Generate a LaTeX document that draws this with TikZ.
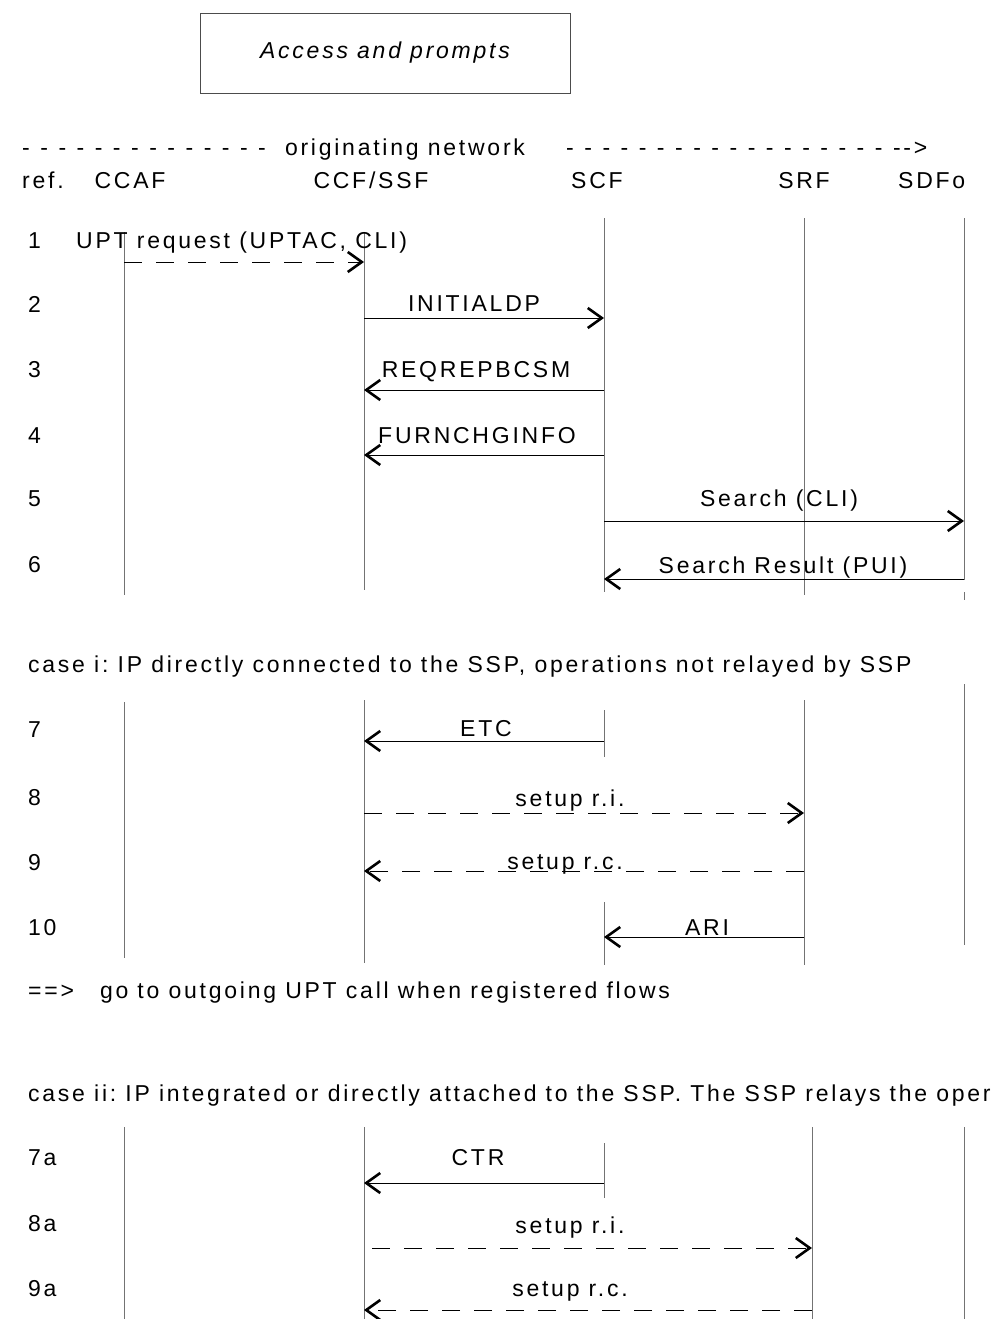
\documentclass[tikz,border=0pt]{standalone}
\usepackage{fontspec}
\setmainfont{Liberation Sans}[LetterSpace=12]
\usetikzlibrary{arrows.meta}
\frenchspacing
\newcommand\widespaces{\spaceskip=10.5pt\relax}
\tikzset{
  life/.style={draw=black!55, line width=0.9pt},
  msg/.style={-{Straight Barb[length=14pt,width=20pt,line width=2.6pt]}, line width=0.9pt},
  dmsg/.style={msg, dash pattern=on 18pt off 14pt},
  txt/.style={font=\fontsize{23}{27}\selectfont, inner sep=0pt},
  dashtxt/.style={txt, font=\fontsize{23}{27}\selectfont\widespaces},
  titlebox/.style={draw=black!70, line width=0.8pt, minimum width=370pt, minimum height=80pt,
    font=\fontsize{23}{27}\selectfont\itshape},
}
\begin{document}
\begin{tikzpicture}[x=1pt,y=-1pt]
  \useasboundingbox (0,0) rectangle (994,1319);
  % Title
  \node[titlebox] (title) at (385,53) {Access and prompts};
  % Header
  \node[dashtxt,anchor=base west] (dashl) at (22,155) {- - - - - - - - - - - - - -};
  \node[txt,anchor=base] (orignet) at (405,155) {originating network};
  \node[dashtxt,anchor=base west] (dashr) at (566,155) {- - - - - - - - - - - - - - - - - - -{}-{}>};
  \node[txt,anchor=base west] (ref) at (22,188) {ref.};
  \node[txt,anchor=base] (hccaf) at (130,188) {CCAF};
  \node[txt,anchor=base] (hccf) at (371,188) {CCF/SSF};
  \node[txt,anchor=base] (hscf) at (597,188) {SCF};
  \node[txt,anchor=base] (hsrf) at (804,188) {SRF};
  \node[txt,anchor=base west] (hsdf) at (898,188) {SDFo};
  % Lifelines, part 1
  \draw[life] (124,232) -- (124,595);
  \draw[life] (364,232) -- (364,590);
  \draw[life] (604,218) -- (604,592);
  \draw[life] (804,218) -- (804,595);
  \draw[life] (964,218) -- (964,580);
  \draw[life] (964,592) -- (964,600);
  % Message ends
  \foreach \r/\y in {1/262,2/318,3/390,4/455,5/521,6/579,7/741,8/813,9/871,10/937}{
    \coordinate (ccaf\r) at (124,\y);
    \coordinate (ccf\r) at (364,\y);
    \coordinate (scf\r) at (604,\y);
    \coordinate (srf\r) at (804,\y);
    \coordinate (sdf\r) at (964,\y);
  }
  % Row labels
  \foreach \r/\y in {1/248,2/312,3/377,4/443,5/506,6/572,7/737,8/805,9/870,10/935}{
    \node[txt,anchor=base west] (row\r) at (28,\y) {\r};
  }
  % Flows 1-6
  \node[txt,anchor=base west] (m1) at (76,248) {UPT request (UPTAC, CLI)};
  \draw[dmsg] (ccaf1) -- (ccf1);
  \node[txt,anchor=base] (m2) at (474,311) {INITIALDP};
  \draw[msg] (ccf2) -- (scf2);
  \node[txt,anchor=base] (m3) at (476,377) {REQREPBCSM};
  \draw[msg] (scf3) -- (ccf3);
  \node[txt,anchor=base] (m4) at (477,443) {FURNCHGINFO};
  \draw[msg] (scf4) -- (ccf4);
  \node[txt,anchor=base] (m5) at (779,506) {Search (CLI)};
  \draw[msg] (scf5) -- (sdf5);
  \node[txt,anchor=base] (m6) at (783,573) {Search Result (PUI)};
  \draw[msg] (sdf6) -- (scf6);
  % Case i
  \node[txt,anchor=base west] (casei) at (28,672) {case i: IP directly connected to the SSP, operations not relayed by SSP};
  \draw[life] (124,702) -- (124,958);
  \draw[life] (364,700) -- (364,963);
  \draw[life] (604,710) -- (604,757);
  \draw[life] (604,902) -- (604,965);
  \draw[life] (804,700) -- (804,965);
  \draw[life] (964,684) -- (964,945);
  \node[txt,anchor=base] (m7) at (486,736) {ETC};
  \draw[msg] (scf7) -- (ccf7);
  \node[txt,anchor=base] (m8) at (570,806) {setup r.i.};
  \draw[dmsg] (ccf8) -- (srf8);
  \node[txt,anchor=base] (m9) at (565,869) {setup r.c.};
  \draw[dmsg] (srf9) -- (ccf9);
  \node[txt,anchor=base] (m10) at (707,935) {ARI};
  \draw[msg] (srf10) -- (scf10);
  \node[txt,anchor=base west] (goto) at (28,998) {==>\hspace{26pt}go to outgoing UPT call when registered flows};
  % Case ii
  \node[txt,anchor=base west] (caseii) at (28,1101) {case ii: IP integrated or directly attached to the SSP. The SSP relays the oper};
  \draw[life] (124,1127) -- (124,1319);
  \draw[life] (364,1127) -- (364,1319);
  \draw[life] (604,1143) -- (604,1198);
  \draw[life] (812,1127) -- (812,1319);
  \draw[life] (964,1127) -- (964,1319);
  \foreach \r/\y in {7a/1165,8a/1231,9a/1296}{
    \node[txt,anchor=base west] (row\r) at (28,\y) {\r};
  }
  \coordinate (scf7a) at (604,1183);
  \coordinate (ccf7a) at (364,1183);
  \coordinate (ccf8a) at (372,1248);
  \coordinate (srf8a) at (812,1248);
  \coordinate (srf9a) at (812,1310);
  \coordinate (ccf9a) at (364,1310);
  \node[txt,anchor=base] (m7a) at (478,1165) {CTR};
  \draw[msg] (scf7a) -- (ccf7a);
  \node[txt,anchor=base] (m8a) at (570,1233) {setup r.i.};
  \draw[dmsg] (ccf8a) -- (srf8a);
  \node[txt,anchor=base] (m9a) at (570,1296) {setup r.c.};
  \draw[dmsg] (srf9a) -- (ccf9a);
\end{tikzpicture}
\end{document}
